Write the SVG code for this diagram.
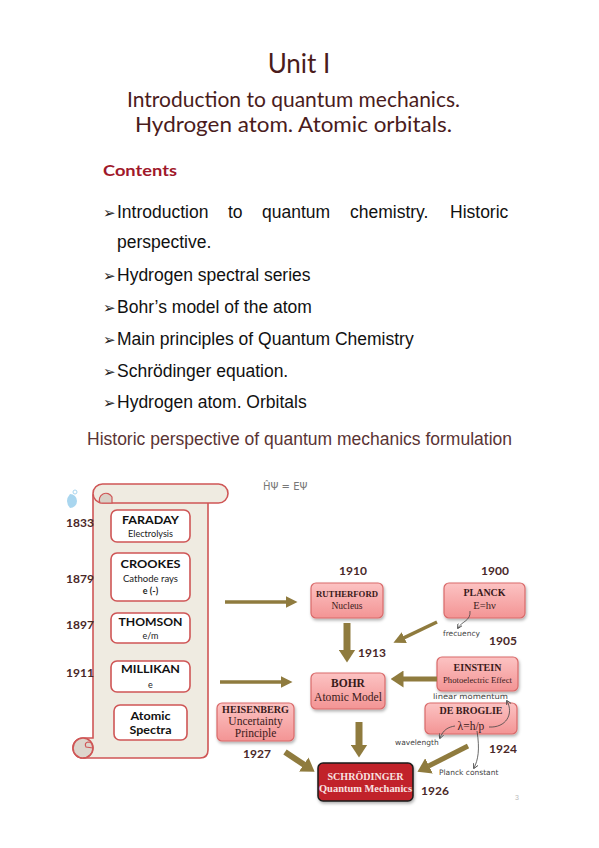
<svg xmlns="http://www.w3.org/2000/svg" width="599" height="848" viewBox="0 0 599 848">
<style>
.title{font-family:Lato,"Open Sans",sans-serif;fill:#4a1c1c}
.bul{font-family:"Liberation Sans",Arial,sans-serif;font-size:17.5px;fill:#111}
.arrowch{font-family:"DejaVu Sans",sans-serif;font-size:15px;fill:#222}
.yr{font-family:Lato,"Open Sans",sans-serif;font-weight:bold;font-size:12px;fill:#4a2828;text-anchor:middle}
.sb{fill:#fff;stroke:#cf5656;stroke-width:1.6}
.sn{font-family:Lato,"Open Sans",sans-serif;font-weight:bold;font-size:11px;fill:#111;text-anchor:middle}
.ss{font-family:Lato,"Open Sans",sans-serif;font-size:9px;fill:#222;text-anchor:middle}
.pk{fill:url(#pg);stroke:#d96a6a;stroke-width:1.2;filter:url(#sh)}
.tb{font-family:"Liberation Serif","Times New Roman",serif;font-weight:bold;fill:#3a1a1a;text-anchor:middle}
.tr{font-family:"Liberation Serif","Times New Roman",serif;fill:#3a1a1a;text-anchor:middle}
.ar{stroke:#8f7b3e;fill:none}
.hw{font-family:"DejaVu Sans",sans-serif;font-size:7.5px;fill:#444}
.hl{stroke:#444;stroke-width:0.8;fill:none}
</style>
<defs>
<linearGradient id="pg" x1="0" y1="0" x2="0" y2="1"><stop offset="0" stop-color="#fcc3c3"/><stop offset="1" stop-color="#f39494"/></linearGradient>
<filter id="sh" x="-20%" y="-20%" width="140%" height="150%"><feDropShadow dx="1" dy="2" stdDeviation="1.5" flood-color="#000" flood-opacity="0.3"/></filter>
<marker id="a1" viewBox="0 0 12 12" markerWidth="12" markerHeight="12" refX="0.5" refY="6" orient="auto" markerUnits="userSpaceOnUse"><path d="M0,0 L12,6 L0,12 z" fill="#8f7b3e"/></marker>
<marker id="a2" viewBox="0 0 13 17" markerWidth="13" markerHeight="17" refX="0.5" refY="8.5" orient="auto" markerUnits="userSpaceOnUse"><path d="M0,0 L13,8.5 L0,17 z" fill="#8f7b3e"/></marker>
<marker id="ha" viewBox="0 0 6 6" markerWidth="5" markerHeight="5" refX="5" refY="3" orient="auto" markerUnits="userSpaceOnUse"><path d="M0,0 L6,3 L0,6" fill="none" stroke="#444" stroke-width="1"/></marker>
</defs>

<g id="header">
<text class="title" x="299" y="73" font-size="26" text-anchor="middle">Unit I</text>
<text class="title" x="127" y="107" font-size="21" textLength="333" lengthAdjust="spacingAndGlyphs">Introduction to quantum mechanics.</text>
<text class="title" x="135" y="132" font-size="21" textLength="317" lengthAdjust="spacingAndGlyphs">Hydrogen atom. Atomic orbitals.</text>
<text x="103" y="176" font-family="Lato,'Open Sans',sans-serif" font-weight="bold" font-size="15" fill="#a0182a" textLength="74" lengthAdjust="spacingAndGlyphs">Contents</text>
</g>

<g id="contents">
<text class="arrowch" x="103" y="218">➢</text>
<text class="bul" x="117" y="218">Introduction</text>
<text class="bul" x="228" y="218">to</text>
<text class="bul" x="262" y="218">quantum</text>
<text class="bul" x="350" y="218">chemistry.</text>
<text class="bul" x="450" y="218">Historic</text>
<text class="bul" x="117" y="248">perspective.</text>
<text class="arrowch" x="103" y="281">➢</text>
<text class="bul" x="117" y="281">Hydrogen spectral series</text>
<text class="arrowch" x="103" y="313">➢</text>
<text class="bul" x="117" y="313">Bohr’s model of the atom</text>
<text class="arrowch" x="103" y="345">➢</text>
<text class="bul" x="117" y="345">Main principles of Quantum Chemistry</text>
<text class="arrowch" x="103" y="377">➢</text>
<text class="bul" x="117" y="377">Schrödinger equation.</text>
<text class="arrowch" x="103" y="408">➢</text>
<text class="bul" x="117" y="408">Hydrogen atom. Orbitals</text>
<text x="87" y="445" font-family="'Liberation Sans',Arial,sans-serif" font-size="17.5" fill="#5a3434" textLength="425" lengthAdjust="spacingAndGlyphs">Historic perspective of quantum mechanics formulation</text>
</g>

<g id="decor">
<path d="M70,494 A7,7 0 0 1 70,508 Q64,501 70,494 z" fill="#a9d6ef"/>
<circle cx="75" cy="492" r="2" fill="none" stroke="#a9d6ef" stroke-width="1"/>
<text x="263" y="490" font-family="'DejaVu Sans',sans-serif" font-size="10" fill="#777">ĤΨ = EΨ</text>
<text x="515" y="800" font-family="'Liberation Sans',sans-serif" font-size="7" fill="#bbb">3</text>
</g>

<g id="scroll">
<path d="M93,495 H208 V750 Q208,758 200,758 H83 A10,10 0 0 1 83,738 H93 Z" fill="#efebe1" stroke="#cf5656" stroke-width="1.6"/>
<rect x="93" y="484" width="135" height="19" rx="9.5" fill="#efebe1" stroke="#cf5656" stroke-width="1.6"/>
<path d="M100,503 A6,6 0 1 1 112,497 L112,503 Z" fill="#d9d0c6" stroke="#cf5656" stroke-width="1.2"/>
<circle cx="83" cy="748" r="10" fill="#ddd5cc" stroke="#cf5656" stroke-width="1.6"/>
<path d="M83,758 A10,10 0 0 0 93,748 Q93,742 88,742 Q84,743 86,747 L93,748" fill="none" stroke="#cf5656" stroke-width="1.2"/>
</g>

<g id="faraday">
<rect class="sb" x="111" y="510" width="79" height="32" rx="6"/>
<text class="sn" x="150.5" y="524" textLength="57" lengthAdjust="spacingAndGlyphs">FARADAY</text>
<text class="ss" x="150.5" y="537" textLength="45" lengthAdjust="spacingAndGlyphs">Electrolysis</text>
<text class="yr" x="80" y="527">1833</text>
</g>
<g id="crookes">
<rect class="sb" x="111" y="553" width="79" height="48" rx="6"/>
<text class="sn" x="150.5" y="568" textLength="60" lengthAdjust="spacingAndGlyphs">CROOKES</text>
<text class="ss" x="150.5" y="582" textLength="55" lengthAdjust="spacingAndGlyphs">Cathode rays</text>
<text class="ss" x="150.5" y="594" font-weight="bold">e (-)</text>
<text class="yr" x="80" y="583">1879</text>
</g>
<g id="thomson">
<rect class="sb" x="111" y="613" width="79" height="30" rx="6"/>
<text class="sn" x="150.5" y="626" textLength="64" lengthAdjust="spacingAndGlyphs">THOMSON</text>
<text class="ss" x="150.5" y="639">e/m</text>
<text class="yr" x="80" y="629">1897</text>
</g>
<g id="millikan">
<rect class="sb" x="111" y="661" width="79" height="31" rx="6"/>
<text class="sn" x="150.5" y="673" textLength="59" lengthAdjust="spacingAndGlyphs">MILLIKAN</text>
<text class="ss" x="150.5" y="688" font-size="10">e</text>
<text class="yr" x="80" y="677">1911</text>
</g>
<g id="spectra">
<rect class="sb" x="114" y="705" width="73" height="35" rx="6"/>
<text class="sn" x="150.5" y="720" textLength="40" lengthAdjust="spacingAndGlyphs">Atomic</text>
<text class="sn" x="150.5" y="734" textLength="42" lengthAdjust="spacingAndGlyphs">Spectra</text>
</g>

<g id="rutherford">
<rect class="pk" x="311" y="583" width="72" height="35" rx="5"/>
<text class="tb" x="347" y="597" font-size="8.7" textLength="62" lengthAdjust="spacingAndGlyphs">RUTHERFORD</text>
<text class="tr" x="347" y="609" font-size="9.5">Nucleus</text>
<text class="yr" x="353" y="575">1910</text>
</g>
<g id="planck">
<rect class="pk" x="444" y="583" width="81" height="35" rx="5"/>
<text class="tb" x="484.5" y="596" font-size="10">PLANCK</text>
<text class="tr" x="484.5" y="609" font-size="10.5">E=hν</text>
<text class="yr" x="495" y="575">1900</text>
</g>
<g id="einstein">
<rect class="pk" x="437" y="657" width="81" height="34" rx="5"/>
<text class="tb" x="477.5" y="671" font-size="10">EINSTEIN</text>
<text class="tr" x="477.5" y="683" font-size="8.7" textLength="69" lengthAdjust="spacingAndGlyphs">Photoelectric Effect</text>
<text class="yr" x="503" y="645">1905</text>
</g>
<g id="bohr">
<rect class="pk" x="311" y="673" width="74" height="36" rx="5"/>
<text class="tb" x="348" y="687" font-size="11.5">BOHR</text>
<text class="tr" x="348" y="701" font-size="11.5" textLength="68" lengthAdjust="spacingAndGlyphs">Atomic Model</text>
<text class="yr" x="372" y="657">1913</text>
</g>
<g id="heisenberg">
<rect class="pk" x="217" y="703" width="77" height="38" rx="5"/>
<text class="tb" x="255.5" y="713" font-size="10" textLength="67" lengthAdjust="spacingAndGlyphs">HEISENBERG</text>
<text class="tr" x="255.5" y="725" font-size="11.5">Uncertainty</text>
<text class="tr" x="255.5" y="737" font-size="11.5">Principle</text>
<text class="yr" x="257" y="758">1927</text>
</g>
<g id="debroglie">
<rect class="pk" x="425" y="703" width="92" height="31" rx="5"/>
<text class="tb" x="471" y="714" font-size="10">DE BROGLIE</text>
<text class="tr" x="471" y="730" font-size="11.5">λ=h/p</text>
<text class="yr" x="503" y="753">1924</text>
</g>
<g id="schrodinger">
<rect x="318" y="763" width="95" height="38" rx="5" fill="#c1242b" stroke="#1a1a1a" stroke-width="1.5" filter="url(#sh)"/>
<text class="tb" x="365.5" y="780" font-size="10" style="fill:#f8e2e2" textLength="76" lengthAdjust="spacingAndGlyphs">SCHRÖDINGER</text>
<text class="tb" x="365.5" y="792" font-size="10" style="fill:#f8e2e2" textLength="93" lengthAdjust="spacingAndGlyphs">Quantum Mechanics</text>
<text class="yr" x="435" y="795">1926</text>
</g>

<g id="connectors">
<line class="ar" x1="225" y1="602" x2="286" y2="602" stroke-width="3.5" marker-end="url(#a1)"/>
<line class="ar" x1="220" y1="682" x2="281" y2="682" stroke-width="3.5" marker-end="url(#a1)"/>
<line class="ar" x1="347" y1="623" x2="347" y2="650" stroke-width="7" marker-end="url(#a2)"/>
<line class="ar" x1="437" y1="622" x2="403.8" y2="637.8" stroke-width="3.5" marker-end="url(#a1)"/>
<line class="ar" x1="437" y1="679" x2="403" y2="679" stroke-width="5" marker-end="url(#a2)"/>
<line class="ar" x1="359" y1="722" x2="359" y2="745" stroke-width="7" marker-end="url(#a2)"/>
<line class="ar" x1="285" y1="752" x2="304.2" y2="764.8" stroke-width="6" marker-end="url(#a2)"/>
<line class="ar" x1="468" y1="746" x2="428.6" y2="766.1" stroke-width="5" marker-end="url(#a2)"/>
</g>

<g id="annotations">
<path class="hl" d="M470,611 C471,621 462,621 458,628" marker-end="url(#ha)"/>
<text class="hw" x="443" y="636">frecuency</text>
<text class="hw" x="433" y="699" textLength="75" lengthAdjust="spacingAndGlyphs">linear momentum</text>
<path class="hl" d="M489,727 C506,728 514,714 507,701" marker-end="url(#ha)"/>
<path class="hl" d="M455,726 C448,727 443,730 440,738" marker-end="url(#ha)"/>
<text class="hw" x="395" y="745">wavelength</text>
<path class="hl" d="M477,731 C480,750 478,760 474,768" marker-end="url(#ha)"/>
<text class="hw" x="439" y="775">Planck constant</text>
</g>
</svg>
